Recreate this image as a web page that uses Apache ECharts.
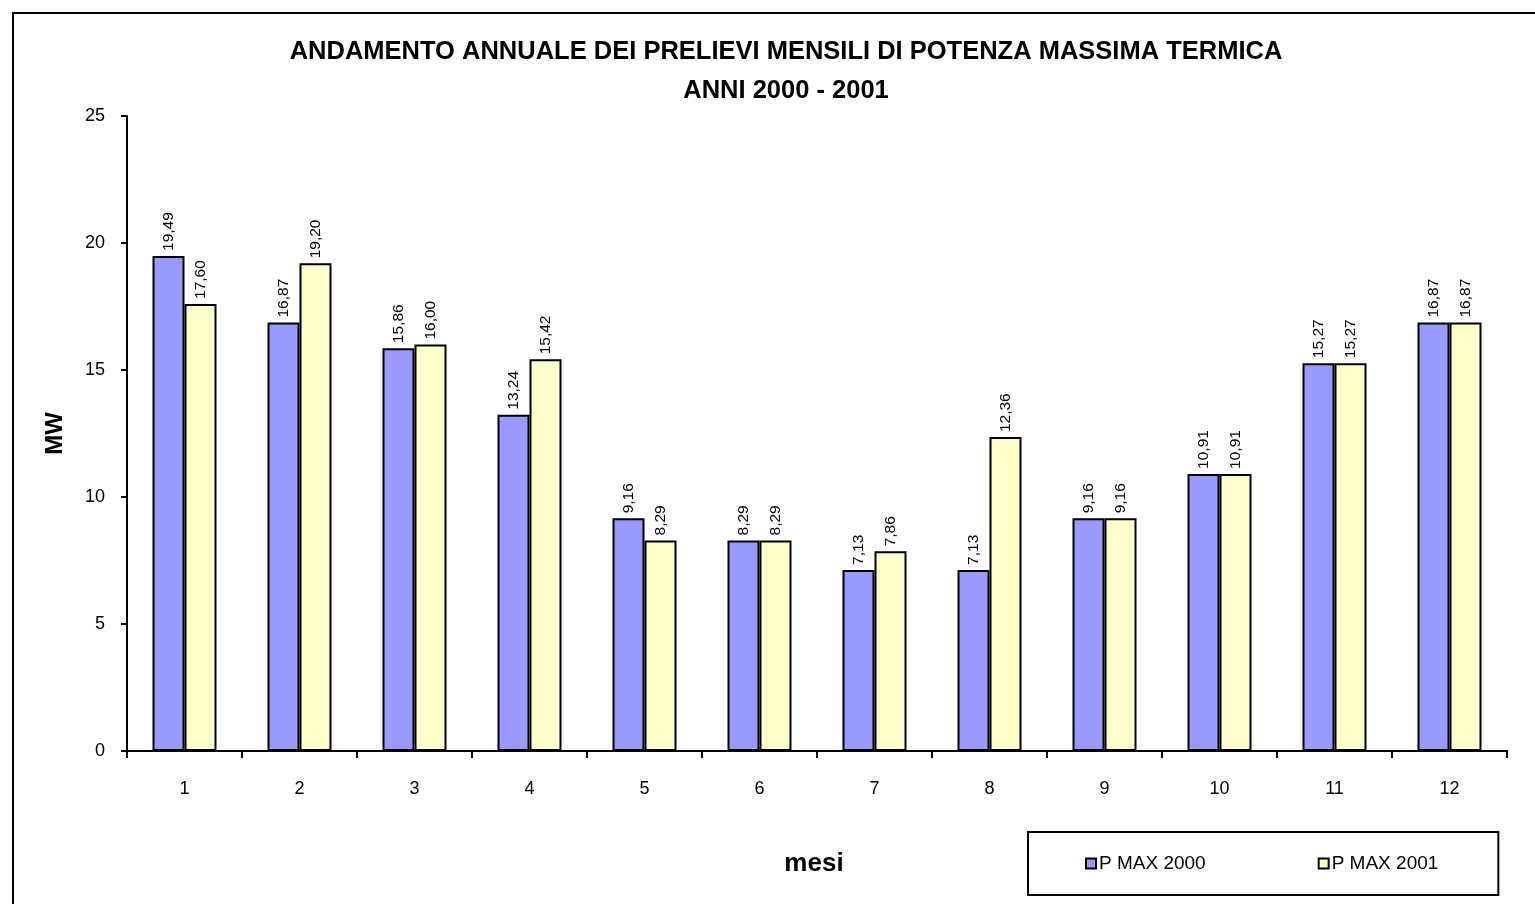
<!DOCTYPE html>
<html>
<head>
<meta charset="utf-8">
<script src="https://cdn.jsdelivr.net/npm/echarts@6/dist/echarts.min.js"></script>
<style>
html,body{margin:0;padding:0;background:#fff;}
#c{width:1535px;height:904px;}
</style>
</head>
<body>
<div id="c"></div>
<script>
const categories = ['1','2','3','4','5','6','7','8','9','10','11','12'];
const pmax2000 = [19.49,16.87,15.86,13.24,9.16,8.29,7.13,7.13,9.16,10.91,15.27,16.87];
const pmax2001 = [17.60,19.20,16.00,15.42,8.29,8.29,7.86,12.36,9.16,10.91,15.27,16.87];
const seriesNames = ['P MAX 2000','P MAX 2001'];
const yTicks = [0,5,10,15,20,25];

const FONT = "'Liberation Sans', Arial, sans-serif";
const NARROW = "'Liberation Sans Narrow', 'Arial Narrow', 'Liberation Sans', sans-serif";

const chart = echarts.init(document.getElementById('c'));
const labelCfg = {
  show: true,
  position: 'top',
  rotate: 90,
  align: 'left',
  verticalAlign: 'middle',
  distance: 5,
  fontFamily: FONT,
  fontSize: 15.5,
  color: '#000',
  formatter: p => p.value.toFixed(2).replace('.', ',')
};
chart.setOption({
  backgroundColor: '#fff',
  animation: false,
  title: {
    text: 'ANDAMENTO ANNUALE DEI PRELIEVI MENSILI DI POTENZA MASSIMA TERMICA\nANNI 2000 - 2001',
    left: 781,
    textAlign: 'center',
    top: 27,
    textStyle: {
      fontFamily: NARROW,
      fontWeight: 'bold',
      fontSize: 25.5,
      lineHeight: 39,
      color: '#000'
    }
  },
  graphic: [{
    type: 'rect',
    shape: {x: 13, y: 13, width: 1600, height: 1000},
    style: {fill: 'none', stroke: '#000', lineWidth: 2},
    z: -1
  }],
  legend: {
    data: seriesNames,
    left: 1028,
    top: 832,
    orient: 'horizontal',
    padding: [22, 60, 22, 57],
    itemGap: 112,
    itemWidth: 10,
    itemHeight: 10,
    icon: 'rect',
    borderColor: '#000',
    borderWidth: 2,
    textStyle: {fontFamily: NARROW, fontSize: 19, color: '#000', padding: [0,0,0,-2]}
  },
  grid: {left: 127, top: 116, right: 28, bottom: 153, containLabel: false},
  xAxis: {
    type: 'category',
    data: categories,
    name: 'mesi',
    nameLocation: 'middle',
    nameGap: 100,
    nameTextStyle: {fontFamily: NARROW, fontWeight: 'bold', fontSize: 26, color: '#000', padding: [0,6,0,0]},
    axisLine: {lineStyle: {color: '#000', width: 2}},
    axisTick: {show: true, inside: false, length: 7, lineStyle: {color: '#000', width: 2}},
    axisLabel: {fontFamily: FONT, fontSize: 18, color: '#000', margin: 29}
  },
  yAxis: {
    type: 'value',
    min: yTicks[0],
    max: yTicks[yTicks.length - 1],
    interval: 5,
    name: 'MW',
    nameLocation: 'middle',
    nameGap: 60,
    nameRotate: 90,
    nameTextStyle: {fontFamily: NARROW, fontWeight: 'bold', fontSize: 24, color: '#000'},
    splitLine: {show: false},
    axisLine: {show: true, lineStyle: {color: '#000', width: 2}},
    axisTick: {show: true, inside: false, length: 6, lineStyle: {color: '#000', width: 2}},
    axisLabel: {fontFamily: NARROW, fontSize: 18, color: '#000', margin: 22}
  },
  series: [
    {
      name: seriesNames[0],
      type: 'bar',
      data: pmax2000,
      barWidth: 32,
      barGap: '0%',
      itemStyle: {color: '#9999FF', borderColor: '#000', borderWidth: 2},
      label: labelCfg
    },
    {
      name: seriesNames[1],
      type: 'bar',
      data: pmax2001,
      barWidth: 32,
      barGap: '0%',
      itemStyle: {color: '#FFFFCC', borderColor: '#000', borderWidth: 2},
      label: labelCfg
    }
  ]
});
</script>
</body>
</html>
